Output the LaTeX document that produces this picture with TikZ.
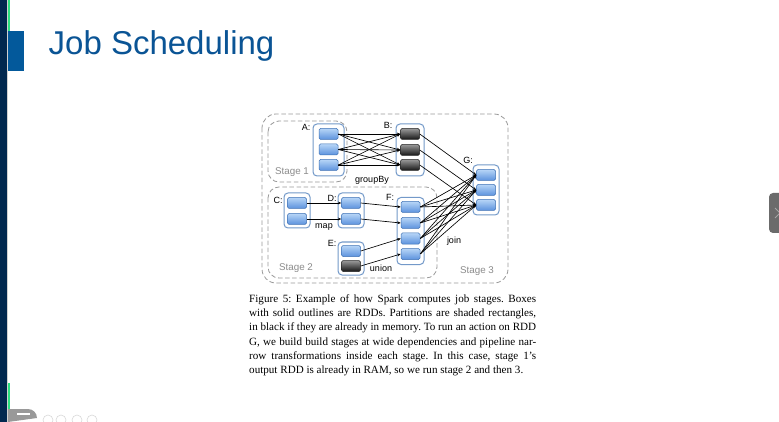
\documentclass[tikz,border=0pt]{standalone}
\usepackage{fontspec}
\setmainfont{Liberation Sans}
\newfontfamily\capfont{Liberation Serif}
\usetikzlibrary{arrows.meta}

\definecolor{navy}{HTML}{01284F}
\definecolor{accentgreen}{HTML}{2BE07F}
\definecolor{blockblue}{HTML}{03599B}
\definecolor{titleblue}{HTML}{0A5495}
\definecolor{parttop}{HTML}{B7D5F7}
\definecolor{partbot}{HTML}{5B92DD}
\definecolor{partedge}{HTML}{3F72B5}
\definecolor{rddedge}{HTML}{7399C9}
\definecolor{tabgray}{HTML}{6B6B6B}

\begin{document}
\begin{tikzpicture}[x=1pt,y=-1pt,
  part/.style={rectangle, rounded corners=1.5pt, draw=partedge, line width=0.5pt,
    top color=parttop, bottom color=partbot, minimum width=19pt, minimum height=11pt, inner sep=0pt},
  cached/.style={part, draw=black!85, top color=black!40, bottom color=black!92},
  rdd/.style={draw=rddedge, line width=1pt, rounded corners=4pt, fill=white, inner sep=0pt},
  stagebox/.style={draw=black!40, dash pattern=on 4.5pt off 2.6pt, line width=0.8pt, rounded corners=14pt},
  lbl/.style={font=\fontsize{9}{10}\selectfont, inner sep=0pt},
  stagelbl/.style={font=\fontsize{9.8}{11}\selectfont, text=black!45, inner sep=0pt},
  dep/.style={-{Stealth[length=3.4pt,width=2.8pt]}, line width=0.65pt},
]
\useasboundingbox (0,0) rectangle (779,422);
\fill[white] (0,0) rectangle (779,422);

% slide frame: left bar, accents, title
\fill[navy] (0,0) rectangle (6.5,422);
\fill[black!18] (6.5,0) rectangle (7.3,422);
\fill[accentgreen] (8,0) rectangle (9.6,42);
\fill[accentgreen] (8,383) rectangle (9.6,422);
\fill[blockblue] (8,31) rectangle (24,71);
\node[anchor=base west, font=\fontsize{33}{36}\selectfont, text=titleblue, inner sep=0pt]
  (title) at (48.5,54.5) {Job Scheduling};

% slide controls
\fill[black!40] (8,422) -- (8,409) -- (28,409) arc[start angle=90, end angle=0, radius=9pt] -- cycle;
\draw[white, line width=1.2pt] (17,414) -- (30,414);
\foreach \cx in {48,61,77,92}
  \draw[black!15, line width=0.6pt] (\cx,420) circle[radius=5pt];
\fill[tabgray, rounded corners=4pt] (769,193) rectangle (790,233);
\draw[black!35, line width=1pt] (775,208) -- (780,213) -- (775,218);

% stages
\draw[stagebox] (262,114) rectangle (508,283);
\draw[stagebox, rounded corners=11pt] (268,121) rectangle (347,182);
\draw[stagebox, rounded corners=11pt] (268,187) rectangle (437,278);
\node[stagelbl] (s1) at (292,172) {Stage 1};
\node[stagelbl] (s2) at (296,268) {Stage 2};
\node[stagelbl] (s3) at (477,271) {Stage 3};

% RDDs
\node[rdd, minimum width=31pt, minimum height=52pt] (A) at (328.5,150) {};
\node[rdd, minimum width=28pt, minimum height=52pt] (B) at (410,150) {};
\node[rdd, minimum width=26pt, minimum height=50pt] (G) at (486,190) {};
\node[rdd, minimum width=26pt, minimum height=35pt] (C) at (297,210.5) {};
\node[rdd, minimum width=26pt, minimum height=35pt] (D) at (351,210.5) {};
\node[rdd, minimum width=26pt, minimum height=33pt] (E) at (351,258.5) {};
\node[rdd, minimum width=27pt, minimum height=67pt] (F) at (410.5,231) {};

% partitions
\node[part] (a1) at (328.5,134) {};
\node[part] (a2) at (328.5,149.5) {};
\node[part] (a3) at (328.5,165) {};
\node[cached] (b1) at (410,134) {};
\node[cached] (b2) at (410,150) {};
\node[cached] (b3) at (410,165) {};
\node[part] (g1) at (486,175) {};
\node[part] (g2) at (486,190) {};
\node[part] (g3) at (486,205) {};
\node[part] (c1) at (297,203) {};
\node[part] (c2) at (297,219) {};
\node[part] (d1) at (351,203) {};
\node[part] (d2) at (351,219) {};
\node[part] (e1) at (351,251) {};
\node[cached] (e2) at (351,266) {};
\node[part] (f1) at (410.5,207) {};
\node[part] (f2) at (410.5,223) {};
\node[part] (f3) at (410.5,238.5) {};
\node[part] (f4) at (410.5,254) {};

% RDD names and operations
\node[lbl] (la) at (306,127) {A:};
\node[lbl] (lb) at (388,125) {B:};
\node[lbl] (lg) at (468,160) {G:};
\node[lbl] (lc) at (278,200) {C:};
\node[lbl] (ld) at (332,198) {D:};
\node[lbl] (le) at (332,243) {E:};
\node[lbl] (lf) at (390,197) {F:};
\node[lbl] (opgroup) at (372,180) {groupBy};
\node[lbl] (opmap) at (324,227) {map};
\node[lbl] (opunion) at (381,268) {union};
\node[lbl] (opjoin) at (454,241) {join};

% dependencies
\foreach \i in {1,2,3}
  \foreach \j in {1,2,3}
    \draw[dep] (a\i.east) -- (b\j.west);
\foreach \i in {1,2,3}
  \draw[dep] (b\i.east) -- (g\i.west);
\draw[dep] (c1.east) -- (d1.west);
\draw[dep] (c2.east) -- (d2.west);
\draw[dep] (d1.east) -- (f1.west);
\draw[dep] (d2.east) -- (f2.west);
\draw[dep] (e1.east) -- (f3.west);
\draw[dep] (e2.east) -- (f4.west);
\foreach \i in {1,...,4}
  \foreach \j in {1,2,3}
    \draw[dep] (f\i.east) -- (g\j.west);

% caption
\node[anchor=north west, inner sep=0pt, text width=287pt, align=justify,
  font=\capfont\fontsize{11.1}{14.2}\selectfont\frenchspacing] (caption) at (249,294.5)
{Figure 5: Example of how Spark computes job stages. Boxes\linebreak
with solid outlines are RDDs. Partitions are shaded rectangles,\linebreak
in black if they are already in memory. To run an action on RDD\linebreak
G, we build build stages at wide dependencies and pipeline nar-\linebreak
row transformations inside each stage. In this case, stage 1’s\linebreak
output RDD is already in RAM, so we run stage 2 and then 3.};
\end{tikzpicture}
\end{document}
